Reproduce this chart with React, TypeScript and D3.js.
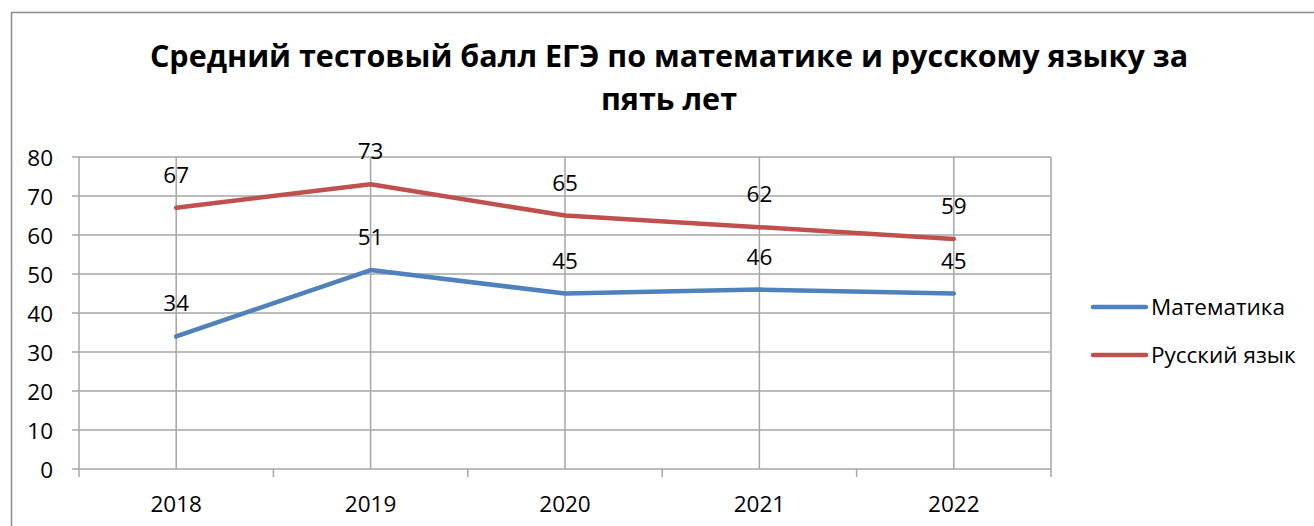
import React from "react";
import * as d3 from "d3";

const years = ["2018", "2019", "2020", "2021", "2022"];
const math = [34, 51, 45, 46, 45];
const russian = [67, 73, 65, 62, 59];
const yTicks = [0, 10, 20, 30, 40, 50, 60, 70, 80];
const seriesNames = ["Математика", "Русский язык"];
const colors = ["#4F81BD", "#C0504D"];
const titleLines = ["Средний тестовый балл ЕГЭ по математике и русскому языку за", "пять лет"];

export default function App() {
  const W = 1314, H = 526;
  const left = 79, right = 1051, top = 157, bottom = 469;
  const x = d3.scaleBand<string>().domain(years).range([left, right]);
  const y = d3.scaleLinear().domain([0, 80]).range([bottom, top]);
  const line = d3.line<number>().x((_, i) => x(years[i])! + x.bandwidth() / 2).y((d) => y(d));
  const series = [math, russian];
  const font = "'Open Sans', sans-serif";
  const grid = "#a6a6a6";
  const fs = 22.5;
  return (
    <svg width={W} height={H} style={{ position: "absolute", left: 0, top: 0 }} fontFamily={font}>
      <rect x={0} y={0} width={W} height={H} fill="#fff" />
      <path d={`M11.5,${H} V12.5 H${W}`} fill="none" stroke="#8c8c8c" strokeWidth={1.5} />
      {titleLines.map((t, i) => (
        <text key={i} x={669} y={67 + i * 43} textAnchor="middle" fontSize={30.5} fontWeight="bold" fill="#000">{t}</text>
      ))}
      {yTicks.map((t) => (
        <g key={t}>
          <line x1={72} x2={right} y1={y(t)} y2={y(t)} stroke={grid} strokeWidth={1.5} />
          <text x={53} y={y(t) + 8.5} textAnchor="end" fontSize={fs} fill="#000">{t}</text>
        </g>
      ))}
      {years.map((yr) => (
        <line key={yr} x1={x(yr)! + x.bandwidth() / 2} x2={x(yr)! + x.bandwidth() / 2} y1={top} y2={bottom} stroke={grid} strokeWidth={1.5} />
      ))}
      <line x1={left} x2={left} y1={top} y2={bottom + 8} stroke={grid} strokeWidth={1.5} />
      <line x1={right} x2={right} y1={top} y2={bottom + 8} stroke={grid} strokeWidth={1.5} />
      {years.slice(1).map((yr) => (
        <line key={yr} x1={x(yr)!} x2={x(yr)!} y1={bottom} y2={bottom + 8} stroke={grid} strokeWidth={1.5} />
      ))}
      {years.map((yr) => (
        <text key={yr} x={x(yr)! + x.bandwidth() / 2} y={512} textAnchor="middle" fontSize={fs} fill="#000">{yr}</text>
      ))}
      {series.map((s, si) => (
        <g key={si}>
          <path d={line(s)!} fill="none" stroke={colors[si]} strokeWidth={4.5} strokeLinejoin="round" strokeLinecap="round" />
          {s.map((v, i) => (
            <text key={i} x={x(years[i])! + x.bandwidth() / 2} y={y(v) - 25} textAnchor="middle" fontSize={fs} fill="#000">{v}</text>
          ))}
        </g>
      ))}
      {seriesNames.map((n, i) => (
        <g key={n}>
          <line x1={1093} x2={1146} y1={307 + i * 48} y2={307 + i * 48} stroke={colors[i]} strokeWidth={4.5} strokeLinecap="round" />
          <text x={1151} y={307 + i * 48 + 8} fontSize={fs} fill="#000">{n}</text>
        </g>
      ))}
    </svg>
  );
}
